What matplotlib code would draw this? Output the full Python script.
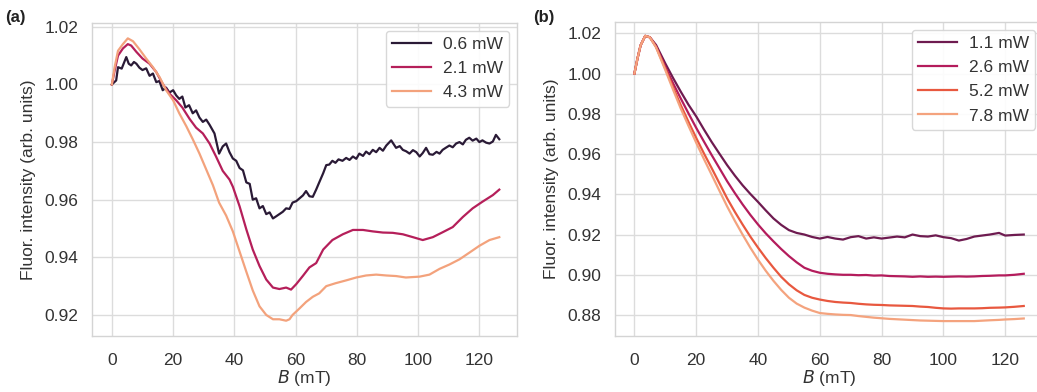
import matplotlib
matplotlib.use("Agg")
import matplotlib.pyplot as plt

# ---- panel (a) data ----
b_a_dark = [0, 1.4, 2, 3.2, 4.7, 5.5, 6.3, 7.2, 8, 9, 10, 11.2, 12.3, 13.4, 14.5, 15.5, 16.6, 17.7,
            18.8, 20, 21, 22, 23, 24, 25.2, 26.4, 27.5, 28.6, 29.7, 30.8, 31.9, 33.5, 35, 36.2,
            37.3, 38.4, 39.5, 40.6, 41.7, 42.8, 43.9, 45, 46, 47.1, 48.2, 49.3, 50.4, 51.5, 52.6,
            53.6, 54.7, 55.8, 56.9, 58, 59, 60.2, 61.3, 62.4, 63.4, 64.5, 65.6, 66.7, 67.7, 69,
            70, 71, 72, 73, 74, 75.3, 76.5, 77.6, 78.7, 79.8, 80.8, 82, 83, 84.1, 85.2, 86.3, 87.4,
            88.5, 89.6, 91.2, 92.8, 94, 95, 96.1, 97.2, 98.3, 99.4, 100.5, 101.5, 102.6, 103.7,
            104.8, 106, 107, 108, 109, 110.2, 111.3, 112.4, 113.5, 114.6, 115.6, 116.7, 117.8,
            119, 120, 121, 122.2, 123.3, 124.4, 125.4, 126.5]
f_a_dark = [1.000, 1.0014, 1.006, 1.0055, 1.0095, 1.0072, 1.0066, 1.0078, 1.0072, 1.0058, 1.005,
            1.0056, 1.003, 1.0038, 1.0008, 1.0012, 0.998, 0.9989, 0.9972, 0.998, 0.9962, 0.995,
            0.9958, 0.992, 0.9928, 0.990, 0.991, 0.9885, 0.987, 0.9878, 0.986, 0.983, 0.976,
            0.9785, 0.9795, 0.9765, 0.9743, 0.9735, 0.971, 0.9702, 0.966, 0.9655, 0.960, 0.9605,
            0.957, 0.9578, 0.955, 0.9556, 0.9535, 0.9542, 0.955, 0.9558, 0.957, 0.9568, 0.959,
            0.9595, 0.9605, 0.9615, 0.963, 0.9612, 0.961, 0.9635, 0.966, 0.9692, 0.972, 0.9722,
            0.9735, 0.9728, 0.974, 0.9735, 0.9745, 0.9738, 0.975, 0.9742, 0.976, 0.9752, 0.9767,
            0.9758, 0.9773, 0.9765, 0.978, 0.977, 0.9788, 0.9806, 0.978, 0.9786, 0.9773, 0.9768,
            0.976, 0.9772, 0.9765, 0.975, 0.9762, 0.978, 0.9758, 0.9756, 0.9766, 0.976, 0.9773,
            0.978, 0.9788, 0.9782, 0.9795, 0.980, 0.9792, 0.9808, 0.9815, 0.9805, 0.9812, 0.980,
            0.9806, 0.9798, 0.9795, 0.9802, 0.9825, 0.981]

b_a_mid = [0, 0.9, 2, 3.6, 5.2, 6.3, 8, 10, 12.3, 14.5, 16.6, 18.8, 21, 23, 25.4, 27.5, 29.7, 31.9,
           34, 36.2, 38.4, 39.5, 41.7, 43.9, 46, 48.2, 50.4, 52.6, 54.7, 56.9, 58.5, 60.2, 62.4,
           64.5, 66.7, 69, 72, 75.4, 78.7, 82, 85.2, 88.5, 91.7, 95, 98.3, 101.5, 104.8, 108,
           111.3, 114.6, 117.8, 121, 124.4, 126.5]
f_a_mid = [1.000, 1.0048, 1.010, 1.0125, 1.014, 1.0135, 1.0113, 1.009, 1.0072, 1.0043, 1.0002,
           0.9968, 0.9945, 0.992, 0.988, 0.985, 0.983, 0.9795, 0.975, 0.970, 0.967, 0.9645,
           0.9577, 0.9497, 0.9427, 0.937, 0.9323, 0.9295, 0.929, 0.9295, 0.9288, 0.9307, 0.9336,
           0.9365, 0.938, 0.9427, 0.946, 0.948, 0.9495, 0.9495, 0.949, 0.9486, 0.9485, 0.948,
           0.947, 0.946, 0.947, 0.9487, 0.9505, 0.954, 0.957, 0.9593, 0.9616, 0.9635]

b_a_light = [0, 0.9, 2, 3.6, 5.2, 6.9, 9, 11.2, 13.4, 15.6, 17.7, 20, 22, 24.3, 26.4, 28.6, 30.8,
             33, 35, 37.3, 39.5, 41.7, 43.9, 46, 48.2, 50.4, 52.6, 54.7, 56.9, 58, 59, 61.3, 63.4,
             65.6, 67.7, 70, 73, 76.5, 79.8, 83, 86.3, 89.6, 92.8, 96, 100.5, 103.7, 107, 110.2,
             113.5, 116.7, 120, 123.3, 126.5]
f_a_light = [1.000, 1.006, 1.0117, 1.014, 1.016, 1.015, 1.0122, 1.009, 1.006, 1.0025, 0.998,
             0.9945, 0.990, 0.9855, 0.981, 0.976, 0.9705, 0.965, 0.959, 0.9545, 0.949, 0.942,
             0.935, 0.9285, 0.923, 0.920, 0.9185, 0.9185, 0.918, 0.9185, 0.920, 0.9223, 0.9245,
             0.9263, 0.9275, 0.930, 0.931, 0.932, 0.933, 0.9337, 0.934, 0.9337, 0.9335, 0.933,
             0.9333, 0.934, 0.936, 0.9375, 0.9393, 0.9416, 0.944, 0.946, 0.947]

labels_a = ["0.6 mW", "2.1 mW", "4.3 mW"]
colors_a = ["#2a1a36", "#b51f5a", "#f3a27c"]

# ---- panel (b) data ----
b_b = [0, 1, 2, 3.5, 5, 7, 10, 12.5, 15, 17.5, 20, 22.5, 25, 27.5, 30, 32.5, 35, 37.5, 40, 42.5,
       45, 47.5, 50, 52.5, 55, 57.5, 60, 62.5, 65, 67.5, 70, 72.5, 75, 77.5, 80, 82.5, 85, 87.5,
       90, 92.5, 95, 97.5, 100, 102.5, 105, 107.5, 110, 112.5, 115, 118, 120, 123, 126]
f_b_11 = [1.000, 1.0075, 1.014, 1.0187, 1.018, 1.0142, 1.005, 0.9978, 0.991, 0.9845, 0.9787,
          0.9722, 0.966, 0.9602, 0.9545, 0.9493, 0.9445, 0.9402, 0.9362, 0.932, 0.928, 0.9248,
          0.9222, 0.9208, 0.920, 0.9188, 0.918, 0.9188, 0.918, 0.9175, 0.9187, 0.9192,
          0.918, 0.9186, 0.918, 0.9185, 0.919, 0.9186, 0.920, 0.9192, 0.919, 0.9196, 0.9187,
          0.9182, 0.917, 0.9178, 0.919, 0.9195, 0.920, 0.9208, 0.9195, 0.9198, 0.920]
f_b_26 = [1.000, 1.0075, 1.014, 1.0187, 1.018, 1.0135, 1.0033, 0.9952, 0.9876, 0.9802, 0.973,
          0.9662, 0.9595, 0.953, 0.9465, 0.9406, 0.935, 0.9298, 0.925, 0.9206, 0.9166, 0.9128,
          0.9093, 0.9062, 0.9035, 0.902, 0.901, 0.9005, 0.9002, 0.9, 0.900, 0.8998,
          0.8999, 0.8996, 0.8997, 0.8994, 0.8993, 0.8992, 0.899, 0.8992, 0.899, 0.8991, 0.899,
          0.8991, 0.8992, 0.8991, 0.8992, 0.8994, 0.8995, 0.8997, 0.8997, 0.9, 0.9005]
f_b_52 = [1.000, 1.0075, 1.014, 1.0187, 1.018, 1.0132, 1.0025, 0.9932, 0.9843, 0.976, 0.968,
          0.9603, 0.953, 0.9455, 0.938, 0.9313, 0.925, 0.919, 0.9135, 0.9083, 0.9035, 0.899,
          0.8953, 0.8923, 0.890, 0.8886, 0.8877, 0.887, 0.8865, 0.8862, 0.886, 0.8856,
          0.8853, 0.8851, 0.885, 0.8848, 0.8847, 0.8846, 0.8845, 0.8842, 0.884, 0.8836, 0.8833,
          0.8832, 0.8833, 0.8833, 0.8833, 0.8834, 0.8836, 0.8837, 0.8838, 0.8841, 0.8845]
f_b_78 = [1.000, 1.0075, 1.014, 1.0187, 1.018, 1.013, 1.0017, 0.992, 0.9826, 0.974, 0.9656,
          0.9575, 0.9497, 0.9418, 0.934, 0.9268, 0.920, 0.9135, 0.9075, 0.902, 0.897, 0.8925,
          0.8886, 0.8857, 0.8837, 0.8822, 0.881, 0.8806, 0.8803, 0.8801, 0.880, 0.8795,
          0.8791, 0.8787, 0.8784, 0.8781, 0.8779, 0.8777, 0.8775, 0.8773, 0.8772, 0.8771, 0.877,
          0.877, 0.877, 0.877, 0.877, 0.8772, 0.8774, 0.8776, 0.8778, 0.878, 0.8783]

labels_b = ["1.1 mW", "2.6 mW", "5.2 mW", "7.8 mW"]
colors_b = ["#6e1b50", "#b41c5c", "#e8583f", "#f4a37e"]

plt.rcParams["font.family"] = ["Liberation Sans", "DejaVu Sans"]
plt.rcParams["font.size"] = 12.5

fig = plt.figure(figsize=(10.37, 3.92), dpi=100)
ax1 = fig.add_axes([0.0887, 0.1429, 0.4099, 0.7982])
ax2 = fig.add_axes([0.593, 0.1429, 0.413, 0.8010])


def style(ax):
    ax.set_facecolor("white")
    ax.grid(True, color="#dcdcdc", linewidth=1.0)
    ax.set_axisbelow(True)
    for s in ax.spines.values():
        s.set_color("#d4d4d4")
        s.set_linewidth(1.0)
    ax.tick_params(length=0, colors="#333333", labelsize=12.5)
    ax.tick_params(axis="x", pad=12)
    ax.tick_params(axis="y", pad=10)
    ax.set_xlabel(r"$\it{B}$ (mT)", color="#333333", fontsize=12.5, labelpad=0)
    ax.set_ylabel("Fluor. intensity (arb. units)", color="#333333", fontsize=12.5, labelpad=6)
    ax.set_xticks([0, 20, 40, 60, 80, 100, 120])


ax1.plot(b_a_dark, f_a_dark, color=colors_a[0], lw=1.6, label=labels_a[0])
ax1.plot(b_a_mid, f_a_mid, color=colors_a[1], lw=1.6, label=labels_a[1])
ax1.plot(b_a_light, f_a_light, color=colors_a[2], lw=1.6, label=labels_a[2])
style(ax1)
ax1.set_xlim(-6.5, 132.3)
ax1.set_ylim(0.9127, 1.0213)
ax1.set_yticks([0.92, 0.94, 0.96, 0.98, 1.00, 1.02])
ax1.set_yticklabels(["0.92", "0.94", "0.96", "0.98", "1.00", "1.02"])

for f, c, lab in zip([f_b_11, f_b_26, f_b_52, f_b_78], colors_b, labels_b):
    ax2.plot(b_b, f, color=c, lw=1.6, label=lab)
style(ax2)
ax2.set_xlim(-6.3, 132.3)
ax2.set_ylim(0.8696, 1.0256)
ax2.set_yticks([0.88, 0.90, 0.92, 0.94, 0.96, 0.98, 1.00, 1.02])
ax2.set_yticklabels(["0.88", "0.90", "0.92", "0.94", "0.96", "0.98", "1.00", "1.02"])

for ax in (ax1, ax2):
    leg = ax.legend(loc="upper right", fontsize=12.5, frameon=True, fancybox=True,
                    handlelength=2.25, borderpad=0.35, labelspacing=0.52, handletextpad=0.7,
                    borderaxespad=0.45)
    leg.get_frame().set_edgecolor("#d4d4d4")
    leg.get_frame().set_alpha(0.9)
    for t in leg.get_texts():
        t.set_color("#333333")

fig.text(0.005, 0.945, "(a)", fontsize=12, fontweight="bold", color="#222222")
fig.text(0.514, 0.945, "(b)", fontsize=12, fontweight="bold", color="#222222")

fig.savefig("out.png", dpi=100)
